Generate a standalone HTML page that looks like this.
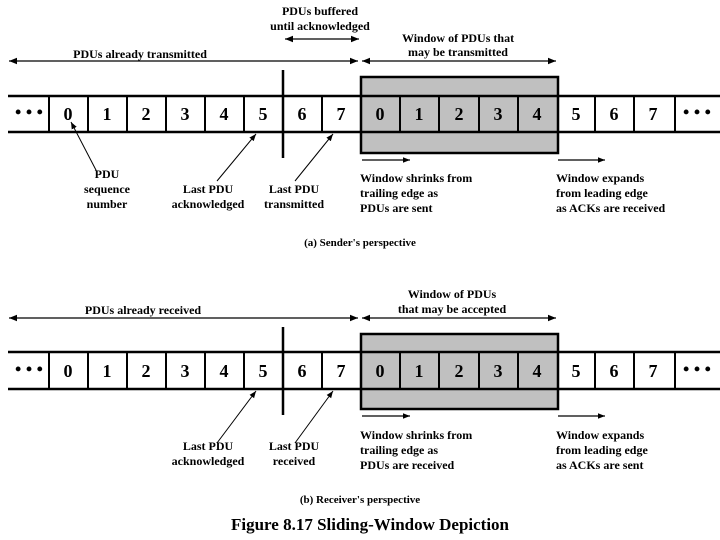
<!DOCTYPE html>
<html><head><meta charset="utf-8"><style>
html,body{margin:0;padding:0;background:#fff;}
svg{display:block;}
text{font-family:"Liberation Serif",serif;font-weight:bold;fill:#000;}
.s{font-size:12px;}
.n{font-size:18px;}
</style></head><body>
<svg width="720" height="540" viewBox="0 0 720 540" xmlns="http://www.w3.org/2000/svg">
<defs>
<marker id="a" viewBox="0 0 10 10" refX="10" refY="5" markerWidth="7" markerHeight="7" orient="auto-start-reverse" markerUnits="userSpaceOnUse"><path d="M0,1 L10,5 L0,9 z" fill="#000"/></marker>
<marker id="b" viewBox="0 0 10 10" refX="10" refY="5" markerWidth="8" markerHeight="8" orient="auto-start-reverse" markerUnits="userSpaceOnUse"><path d="M0,1 L10,5 L0,9 z" fill="#000"/></marker>
</defs>

<!-- ========== SENDER ========== -->
<g id="sender">
<text class="s" x="320" y="15" text-anchor="middle">PDUs buffered</text>
<text class="s" x="320" y="30" text-anchor="middle">until acknowledged</text>
<line x1="285" y1="39" x2="359" y2="39" stroke="#000" stroke-width="1.3" marker-start="url(#b)" marker-end="url(#b)"/>
<text class="s" x="458" y="42" text-anchor="middle">Window of PDUs that</text>
<text class="s" x="458" y="56" text-anchor="middle">may be transmitted</text>
<text class="s" x="140" y="58" text-anchor="middle">PDUs already transmitted</text>
<line x1="9" y1="61" x2="358" y2="61" stroke="#000" stroke-width="1.3" marker-start="url(#b)" marker-end="url(#b)"/>
<line x1="362" y1="61" x2="556" y2="61" stroke="#000" stroke-width="1.3" marker-start="url(#b)" marker-end="url(#b)"/>

<rect x="361" y="77" width="197" height="76" fill="#c0c0c0" stroke="#000" stroke-width="2.5"/>
<line x1="8" y1="96" x2="720" y2="96" stroke="#000" stroke-width="2.5"/>
<line x1="8" y1="132" x2="720" y2="132" stroke="#000" stroke-width="2.5"/>
<g stroke="#000" stroke-width="2">
<line x1="49" y1="96" x2="49" y2="132"/><line x1="88" y1="96" x2="88" y2="132"/>
<line x1="127" y1="96" x2="127" y2="132"/><line x1="166" y1="96" x2="166" y2="132"/>
<line x1="205" y1="96" x2="205" y2="132"/><line x1="244" y1="96" x2="244" y2="132"/>
<line x1="322" y1="96" x2="322" y2="132"/>
<line x1="400" y1="96" x2="400" y2="132"/><line x1="439" y1="96" x2="439" y2="132"/>
<line x1="479" y1="96" x2="479" y2="132"/><line x1="518" y1="96" x2="518" y2="132"/>
<line x1="595" y1="96" x2="595" y2="132"/><line x1="634" y1="96" x2="634" y2="132"/>
<line x1="675" y1="96" x2="675" y2="132"/>
</g>
<line x1="283" y1="70" x2="283" y2="158" stroke="#000" stroke-width="2.5"/>
<g class="n" text-anchor="middle">
<text x="29" y="118">• • •</text>
<text class="n" x="68" y="120">0</text><text class="n" x="107" y="120">1</text>
<text class="n" x="146" y="120">2</text><text class="n" x="185" y="120">3</text>
<text class="n" x="224" y="120">4</text><text class="n" x="263" y="120">5</text>
<text class="n" x="302" y="120">6</text><text class="n" x="341" y="120">7</text>
<text class="n" x="380" y="120">0</text><text class="n" x="419" y="120">1</text>
<text class="n" x="459" y="120">2</text><text class="n" x="498" y="120">3</text>
<text class="n" x="537" y="120">4</text><text class="n" x="576" y="120">5</text>
<text class="n" x="614" y="120">6</text><text class="n" x="653" y="120">7</text>
<text x="697" y="118">• • •</text>
</g>

<line x1="97" y1="172" x2="71" y2="122" stroke="#000" stroke-width="1" marker-end="url(#a)"/>
<line x1="217" y1="181" x2="256" y2="134" stroke="#000" stroke-width="1" marker-end="url(#a)"/>
<line x1="295" y1="181" x2="333" y2="134" stroke="#000" stroke-width="1" marker-end="url(#a)"/>

<text class="s" x="107" y="178" text-anchor="middle">PDU</text>
<text class="s" x="107" y="193" text-anchor="middle">sequence</text>
<text class="s" x="107" y="208" text-anchor="middle">number</text>
<text class="s" x="208" y="193" text-anchor="middle">Last PDU</text>
<text class="s" x="208" y="208" text-anchor="middle">acknowledged</text>
<text class="s" x="294" y="193" text-anchor="middle">Last PDU</text>
<text class="s" x="294" y="208" text-anchor="middle">transmitted</text>

<line x1="362" y1="160" x2="410" y2="160" stroke="#000" stroke-width="1.3" marker-end="url(#a)"/>
<line x1="558" y1="160" x2="605" y2="160" stroke="#000" stroke-width="1.3" marker-end="url(#a)"/>
<text class="s" x="360" y="182">Window shrinks from</text>
<text class="s" x="360" y="197">trailing edge as</text>
<text class="s" x="360" y="212">PDUs are sent</text>
<text class="s" x="556" y="182">Window expands</text>
<text class="s" x="556" y="197">from leading edge</text>
<text class="s" x="556" y="212">as ACKs are received</text>

<text class="s" x="360" y="246" text-anchor="middle" style="font-size:11px">(a) Sender's perspective</text>
</g>

<!-- ========== RECEIVER ========== -->
<g id="receiver">
<text class="s" x="452" y="298" text-anchor="middle">Window of PDUs</text>
<text class="s" x="452" y="313" text-anchor="middle">that may be accepted</text>
<text class="s" x="143" y="314" text-anchor="middle">PDUs already received</text>
<line x1="9" y1="318" x2="358" y2="318" stroke="#000" stroke-width="1.3" marker-start="url(#b)" marker-end="url(#b)"/>
<line x1="362" y1="318" x2="556" y2="318" stroke="#000" stroke-width="1.3" marker-start="url(#b)" marker-end="url(#b)"/>

<rect x="361" y="334" width="197" height="75" fill="#c0c0c0" stroke="#000" stroke-width="2.5"/>
<line x1="8" y1="352" x2="720" y2="352" stroke="#000" stroke-width="2.5"/>
<line x1="8" y1="389" x2="720" y2="389" stroke="#000" stroke-width="2.5"/>
<g stroke="#000" stroke-width="2">
<line x1="49" y1="352" x2="49" y2="389"/><line x1="88" y1="352" x2="88" y2="389"/>
<line x1="127" y1="352" x2="127" y2="389"/><line x1="166" y1="352" x2="166" y2="389"/>
<line x1="205" y1="352" x2="205" y2="389"/><line x1="244" y1="352" x2="244" y2="389"/>
<line x1="322" y1="352" x2="322" y2="389"/>
<line x1="400" y1="352" x2="400" y2="389"/><line x1="439" y1="352" x2="439" y2="389"/>
<line x1="479" y1="352" x2="479" y2="389"/><line x1="518" y1="352" x2="518" y2="389"/>
<line x1="595" y1="352" x2="595" y2="389"/><line x1="634" y1="352" x2="634" y2="389"/>
<line x1="675" y1="352" x2="675" y2="389"/>
</g>
<line x1="283" y1="327" x2="283" y2="415" stroke="#000" stroke-width="2.5"/>
<g class="n" text-anchor="middle">
<text x="29" y="375">• • •</text>
<text class="n" x="68" y="377">0</text><text class="n" x="107" y="377">1</text>
<text class="n" x="146" y="377">2</text><text class="n" x="185" y="377">3</text>
<text class="n" x="224" y="377">4</text><text class="n" x="263" y="377">5</text>
<text class="n" x="302" y="377">6</text><text class="n" x="341" y="377">7</text>
<text class="n" x="380" y="377">0</text><text class="n" x="419" y="377">1</text>
<text class="n" x="459" y="377">2</text><text class="n" x="498" y="377">3</text>
<text class="n" x="537" y="377">4</text><text class="n" x="576" y="377">5</text>
<text class="n" x="614" y="377">6</text><text class="n" x="653" y="377">7</text>
<text x="697" y="375">• • •</text>
</g>

<line x1="217" y1="443" x2="256" y2="391" stroke="#000" stroke-width="1" marker-end="url(#a)"/>
<line x1="295" y1="443" x2="333" y2="391" stroke="#000" stroke-width="1" marker-end="url(#a)"/>
<text class="s" x="208" y="450" text-anchor="middle">Last PDU</text>
<text class="s" x="208" y="465" text-anchor="middle">acknowledged</text>
<text class="s" x="294" y="450" text-anchor="middle">Last PDU</text>
<text class="s" x="294" y="465" text-anchor="middle">received</text>

<line x1="362" y1="416" x2="410" y2="416" stroke="#000" stroke-width="1.3" marker-end="url(#a)"/>
<line x1="558" y1="416" x2="605" y2="416" stroke="#000" stroke-width="1.3" marker-end="url(#a)"/>
<text class="s" x="360" y="439">Window shrinks from</text>
<text class="s" x="360" y="454">trailing edge as</text>
<text class="s" x="360" y="469">PDUs are received</text>
<text class="s" x="556" y="439">Window expands</text>
<text class="s" x="556" y="454">from leading edge</text>
<text class="s" x="556" y="469">as ACKs are sent</text>

<text class="s" x="360" y="503" text-anchor="middle" style="font-size:11px">(b) Receiver's perspective</text>
</g>

<text x="370" y="530" text-anchor="middle" style="font-size:17px">Figure 8.17   Sliding-Window Depiction</text>
</svg>
</body></html>
